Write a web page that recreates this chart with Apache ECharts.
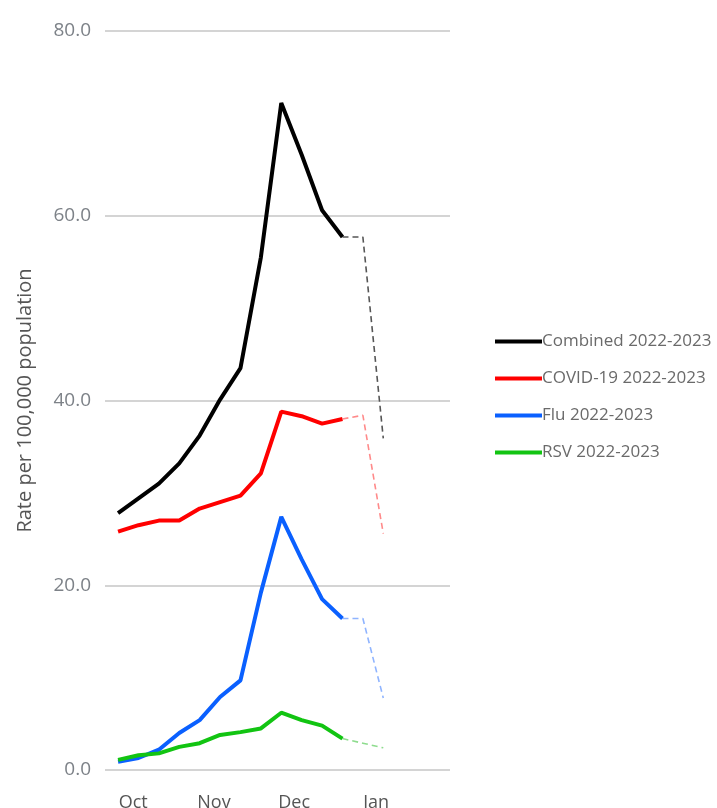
<!DOCTYPE html>
<html>
<head>
<meta charset="utf-8">
<script src="https://cdn.jsdelivr.net/npm/echarts@6/dist/echarts.min.js"></script>
<style>html,body{margin:0;padding:0;background:#fff;}#c{width:717px;height:808px;}</style>
</head>
<body>
<div id="c"></div>
<script>
// Week index of each weekly point (0 = first October week)
var weeks = [0,1,2,3,4,5,6,7,8,9,10,11,12,13];
// Observed (solid) through week 11, projected/incomplete (dashed) weeks 11-13
var combined = [27.8,29.4,31.0,33.2,36.2,40.1,43.5,55.5,72.2,66.6,60.6,57.7,57.7,35.9];
var covid    = [25.8,26.5,27.0,27.0,28.3,29.0,29.7,32.1,38.8,38.3,37.5,38.0,38.4,25.6];
var flu      = [0.9,1.3,2.2,4.0,5.4,7.9,9.7,19.2,27.4,22.8,18.5,16.4,16.4,7.8];
var rsv      = [1.1,1.6,1.8,2.5,2.9,3.8,4.1,4.5,6.2,5.4,4.8,3.4,2.9,2.4];
var solidEnd = 11;
var seriesNames = ['Combined 2022-2023','COVID-19 2022-2023','Flu 2022-2023','RSV 2022-2023'];
var monthLabels = ['Oct','Nov','Dec','Jan'];
var monthPos = [0.74, 4.7, 8.63, 12.65];
var yTicks = [0, 20, 40, 60, 80];

var colors = ['#000000','#ff0000','#0a60ff','#12c412'];
var dashColors = ['#555555','#ff8a8a','#8fb4ff','#8edc8e'];
var allData = [combined, covid, flu, rsv];

function pairs(arr, from, to){
  var out = [];
  for (var i = from; i <= to; i++) out.push([weeks[i], arr[i]]);
  return out;
}

var series = [];
allData.forEach(function(arr, k){
  series.push({
    name: seriesNames[k], type: 'line', data: pairs(arr, 0, solidEnd),
    symbol: 'none', showSymbol: false,
    lineStyle: {color: colors[k], width: 4}, itemStyle: {color: colors[k]},
    z: 3 + k
  });
});
allData.forEach(function(arr, k){
  series.push({
    name: seriesNames[k] + ' proj', type: 'line', data: pairs(arr, solidEnd, weeks.length - 1),
    symbol: 'none', showSymbol: false,
    lineStyle: {color: dashColors[k], width: 1.6, type: [6, 4]},
    itemStyle: {color: dashColors[k]},
    z: 2
  });
});

var chart = echarts.init(document.getElementById('c'), null, {renderer: 'canvas'});
chart.setOption({
  animation: false,
  backgroundColor: '#ffffff',
  grid: {left: 105, right: 267, top: 31, bottom: 38, containLabel: false, outerBoundsMode: 'none'},
  legend: {
    data: seriesNames,
    orient: 'vertical', left: 490, top: 328,
    icon: 'rect', itemWidth: 47, itemHeight: 4, itemGap: 20,
    textStyle: {color: '#6a6a6a', fontSize: 17, fontFamily: 'Open Sans', padding: [0,0,0,-5]}
  },
  xAxis: {
    type: 'value', min: -0.64, max: 16.27,
    axisLine: {show: false}, axisTick: {show: false}, splitLine: {show: false},
    axisLabel: {
      customValues: monthPos,
      formatter: function(v){
        for (var i = 0; i < monthPos.length; i++) if (Math.abs(monthPos[i]-v) < 1e-6) return monthLabels[i];
        return '';
      },
      color: '#555555', fontSize: 18, fontFamily: 'Open Sans', margin: 24
    }
  },
  yAxis: {
    type: 'value', min: 0, max: 80, interval: 20,
    name: 'Rate per 100,000 population', nameLocation: 'middle', nameGap: 70,
    nameTextStyle: {color: '#555555', fontSize: 20, fontFamily: 'Open Sans'},
    axisLine: {show: false}, axisTick: {show: false},
    axisLabel: {formatter: function(v){ return v.toFixed(1); }, color: '#7d8288', fontSize: 19, fontFamily: 'Open Sans', margin: 14},
    splitLine: {lineStyle: {color: '#d4d4d4', width: 2}}
  },
  series: series
});
</script>
</body>
</html>
